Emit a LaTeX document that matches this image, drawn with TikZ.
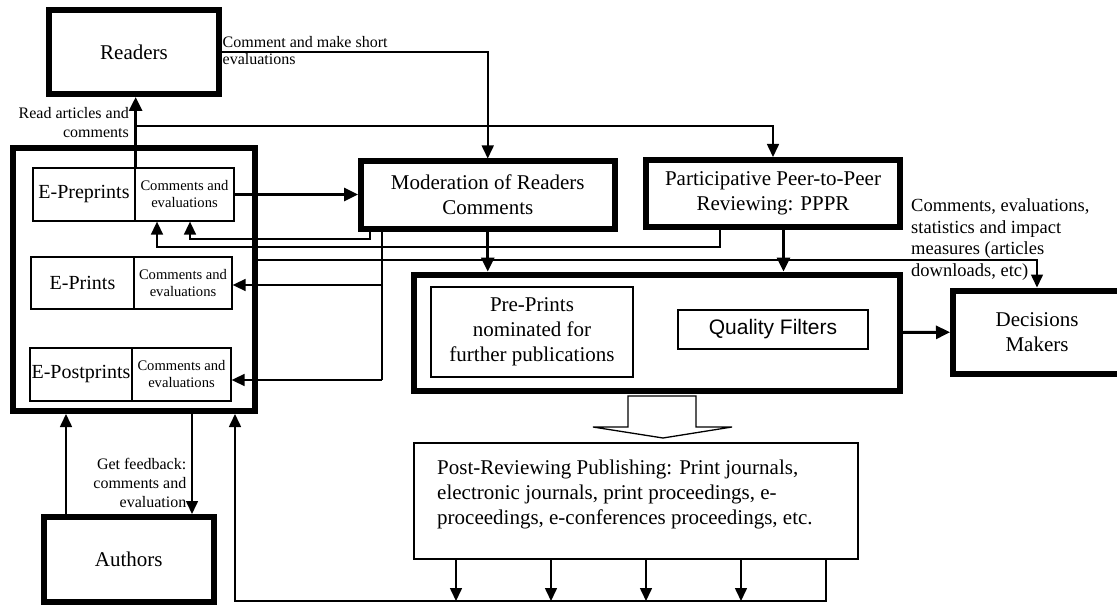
\documentclass[tikz,border=0pt]{standalone}
\usepackage{fontspec}
\setmainfont{Liberation Serif}
\newfontfamily\qfsans{Liberation Sans}
\usetikzlibrary{arrows.meta}

% text sizes used in the chart
\newcommand\bigtxt{\fontsize{21}{25}\selectfont}
\newcommand\rowtxt{\fontsize{20}{24}\selectfont}
\newcommand\celltxt{\fontsize{14.6}{17}\selectfont}
\newcommand\labtxt{\fontsize{16}{19}\selectfont}
\newcommand\sidetxt{\fontsize{18.5}{21.4}\selectfont}

\begin{document}
\begin{tikzpicture}[x=1pt,y=-1pt,
  thickbox/.style={draw,line width=6pt,inner sep=0pt,align=center,font=\bigtxt},
  thinbox/.style={draw,line width=1.3pt,inner sep=0pt,align=center},
  thinarrow/.style={line width=1.6pt,-{Triangle[length=13pt,width=12pt]}},
  thickarrow/.style={line width=3pt,-{Triangle[length=14pt,width=13pt]}},
  thinline/.style={line width=1.6pt},
  lab/.style={inner sep=0pt,font=\labtxt}]

\clip (0,0) rectangle (1117,607);
\fill[white] (0,0) rectangle (1117,607);

% ---- main boxes ----
\node[thickbox,minimum width=170pt,minimum height=84pt] (readers) at (134,52) {Readers};
\node[thickbox,minimum width=242pt,minimum height=263pt] (repo) at (133.5,279.5) {};
\node[thickbox,minimum width=253.5pt,minimum height=67pt] (mod) at (487.75,195) {Moderation of Readers\\Comments};
\node[thickbox,minimum width=254pt,minimum height=67pt] (pppr) at (773,193.5) {Participative Peer-to-Peer\\Reviewing: PPPR};
\node[thickbox,minimum width=486pt,minimum height=116pt] (qbox) at (657,332.5) {};
% the decision makers box runs past the right margin
\node[thickbox,minimum width=180pt,minimum height=83.5pt] (dec) at (1043,332.25) {\kern-12pt Decisions\\\kern-12pt Makers};
\node[thickbox,minimum width=169.5pt,minimum height=84.5pt] (authors) at (128.75,559.25) {Authors};

% ---- repository rows ----
\node[thinbox,font=\rowtxt,minimum width=102pt,minimum height=53pt] (prepl) at (84,194.5) {E-Preprints};
\node[thinbox,font=\celltxt,minimum width=99pt,minimum height=53pt] (prepr) at (184.5,194.5) {Comments and\\evaluations};
\node[thinbox,font=\rowtxt,minimum width=103pt,minimum height=52pt] (printl) at (82.5,283) {E-Prints};
\node[thinbox,font=\celltxt,minimum width=98pt,minimum height=52pt] (printr) at (183,283) {Comments and\\evaluations};
\node[thinbox,font=\rowtxt,minimum width=102pt,minimum height=53pt] (postl) at (81,374.5) {E-Postprints};
\node[thinbox,font=\celltxt,minimum width=99pt,minimum height=53pt] (postr) at (181.5,374.5) {Comments and\\evaluations};

% ---- inside the filtering box ----
\node[thinbox,font=\bigtxt,minimum width=202pt,minimum height=90pt] (nominated) at (532,332) {Pre-Prints\\nominated for\\further publications};
\node[thinbox,font=\qfsans\fontsize{21}{25}\selectfont,minimum width=190pt,minimum height=39pt] (qf) at (773,329.5) {Quality Filters};

% ---- publishing box ----
\node[thinbox,minimum width=444pt,minimum height=116pt] (post) at (636,501) {};
\node[inner sep=0pt,anchor=west,align=left,font=\bigtxt] (posttext) at (437,494)
  {Post-Reviewing Publishing: Print journals,\\electronic journals, print proceedings, e-\\proceedings, e-conferences proceedings, etc.};

% block arrow from filters to publishing
\draw[line width=1.3pt,fill=white] (628,396) -- (696,396) -- (696,427) -- (732,427)
  -- (663,438) -- (593,427) -- (628,427) -- cycle;

% ---- readers ----
\coordinate (readfork) at (136,126);
\draw[thickarrow] (prepl.north east) -- (prepl.north east |- readers.south);
\draw[thinarrow] (readfork) -| (pppr.north);
\node[lab,anchor=east,align=right] (readlab) at (129,122.5) {Read articles and\\comments};

\draw[thinarrow] (readers.east) -| (mod.north);
\node[lab,anchor=west,align=left,font=\fontsize{16}{17}\selectfont] (commlab) at (222.5,50.5) {Comment and make short\\evaluations};

% ---- moderation links ----
\draw[thickarrow] (prepr.east) -- (mod.west |- prepr.east);
\draw[thinarrow] (370,0 |- mod.south) -- (370,239) -| (190,0 |- prepr.south);
\draw[thinarrow] (720,0 |- pppr.south) -- (720,247) -| (157,0 |- prepr.south);
\draw[thinline] (382,0 |- mod.south) -- (382,380);
\draw[thinarrow] (382,285) -- (printr.east |- 0,285);
\draw[thinarrow] (382,380) -- (postr.east |- 0,380);

% ---- towards filters and decision makers ----
\draw[thickarrow] (mod.south) -- (mod.south |- qbox.north);
\draw[thickarrow] (783.5,0 |- pppr.south) -- (783.5,0 |- qbox.north);
\draw[thickarrow] (qbox.east) -- (dec.west);
\draw[thinarrow] (repo.east |- 0,260) -- (1037,260) -- (1037,0 |- dec.north);
\node[inner sep=0pt,anchor=west,align=left,font=\sidetxt] (statlab) at (911,239.5)
  {Comments, evaluations,\\statistics and impact\\measures (articles\\downloads, etc)};

% ---- publishing outputs back to the repository ----
\foreach \xx in {456,551,646,741}
  \draw[thinarrow] (\xx,0 |- post.south) -- (\xx,601);
\draw[thinarrow] (826,0 |- post.south) -- (826,601) -- (235,601) -- (235,0 |- repo.south);

% ---- authors ----
\draw[thinarrow] (66,0 |- authors.north) -- (66,0 |- repo.south);
\draw[thinarrow] (192,0 |- repo.south) -- (192,0 |- authors.north);
\node[lab,anchor=east,align=right] (feedlab) at (186.5,483) {Get feedback:\\comments and\\evaluation};

\end{tikzpicture}
\end{document}
